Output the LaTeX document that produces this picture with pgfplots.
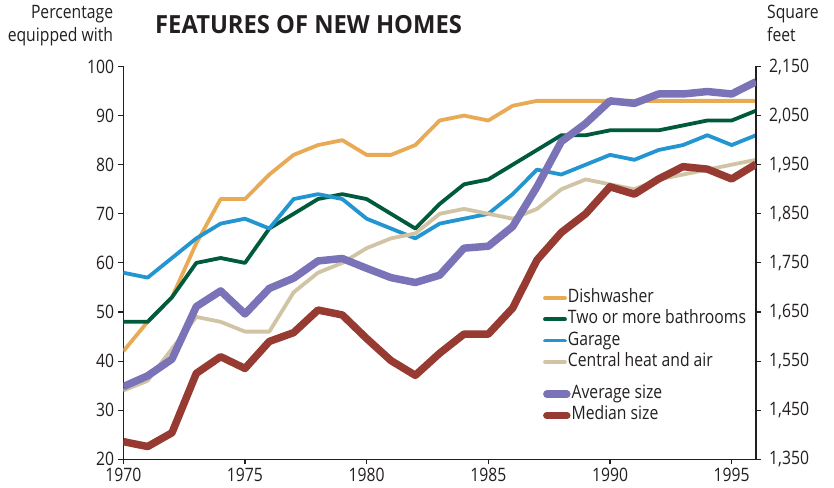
\documentclass[border=0pt]{standalone}
\usepackage{fontspec}
\setmainfont{Open Sans}[FakeStretch=0.85]
\newfontfamily\titlefont{Open Sans}[FakeStretch=0.95]
\usepackage{pgfplots}
\usepackage{pgfplotstable}
\pgfplotsset{compat=1.18}

\definecolor{cdish}{HTML}{E8AA54}
\definecolor{cbath}{HTML}{005A3C}
\definecolor{cgarage}{HTML}{2396D2}
\definecolor{ccentral}{HTML}{D0C4A4}
\definecolor{cavg}{HTML}{7A73B8}
\definecolor{cmed}{HTML}{963A32}
\definecolor{ctext}{HTML}{231F20}

% year, percentages (left axis), square feet (right axis)
\pgfplotstableread{
year dish bath garage central avg  med
1970 42   48   58     34      1498 1386
1971 48   48   57     36      1520 1376
1972 53   53   61     42.5    1554 1404
1973 64   60   65     49      1661 1525
1974 73   61   68     48      1693 1559
1975 73   60   69     46      1646 1535
1976 78   67   67     46      1698 1590
1977 82   70   73     54      1719 1608
1978 84   73   74     58      1754 1654
1979 85   74   73     60      1759 1644
1980 82   73   69     63      1739 1596
1981 82   70   67     65      1720 1551
1982 84   67   65     66      1710 1521
1983 89   72   68     70      1725 1566
1984 90   76   69     71      1780 1605
1985 89   77   70     70      1784 1605
1986 92   80   74     69      1824 1658
1987 93   83   79     71      1905 1756
1988 93   86   78     75      1997 1812
1989 93   86   80     77      2034 1850
1990 93   87   82     76      2080 1905
1991 93   87   81     75      2075 1890
1992 93   87   83     77      2094 1921
1993 93   88   84     78      2094 1946
1994 93   89   86     79      2099 1941
1995 93   89   84     80      2094 1921
1996 93   91   86     81      2119 1951
}\homes

\pgfplotsset{
  base/.style={
    scale only axis,
    width=632.7pt, height=392.8pt,
    at={(0,0)}, anchor=south west,
    xmin=1970, xmax=1996,
    tick align=outside,
    major tick length=5pt,
    tick style={line width=1.2pt, ctext},
    axis line style={line width=1.3pt, ctext},
    tick label style={font=\fontsize{18.5}{20}\selectfont, text=ctext, inner sep=0pt},
    xticklabel shift=4pt, yticklabel shift=4pt,
    /pgf/number format/assume math mode=true,
    legend style={draw=none, fill=none, inner sep=0pt, outer sep=0pt,
      font=\fontsize{18.5}{20}\selectfont, text=ctext,
      nodes={text height=13pt, text depth=4pt, inner sep=1pt},
      row sep=2.3pt, anchor=north west},
    legend cell align=left,
    legend image code/.code={\draw[#1, line cap=round] (0pt,0pt) -- (20pt,0pt);},
    line join=round,
  },
  thin/.style={line width=3.8pt, no markers},
  thick/.style={line width=7.5pt, no markers},
}

\begin{document}
\begin{tikzpicture}
\useasboundingbox (-123.3pt,-27.7pt) rectangle (710.7pt,459.3pt);

\begin{axis}[base,
  axis x line*=bottom, axis y line*=left,
  ymin=20, ymax=100, ytick={20,30,...,100},
  xtick={1970,1975,...,1995},
  xticklabel style={/pgf/number format/1000 sep={}},
  legend style={at={(0.6635,0.435)}},
]
\addplot[thin, cdish] table[x=year, y=dish] {\homes};
\addlegendentry{Dishwasher}
\addplot[thin, cbath] table[x=year, y=bath] {\homes};
\addlegendentry{Two or more bathrooms}
\addplot[thin, cgarage] table[x=year, y=garage] {\homes};
\addlegendentry{Garage}
\addplot[thin, ccentral] table[x=year, y=central] {\homes};
\addlegendentry{Central heat and air}
\end{axis}

\begin{axis}[base,
  axis x line=none, axis y line*=right,
  ymin=1350, ymax=2150, ytick={1350,1450,...,2150},
  yticklabel style={xshift=4pt, /pgf/number format/1000 sep={,}},
  legend style={at={(0.6635,0.19)}},
]
\addplot[thick, cavg] table[x=year, y=avg] {\homes};
\addlegendentry{Average size}
\addplot[thick, cmed] table[x=year, y=med] {\homes};
\addlegendentry{Median size}
\end{axis}

\node[anchor=west, text=ctext, inner sep=0pt, font=\fontsize{25}{28}\titlefont\bfseries]
  at (31.7pt,434.5pt) {FEATURES OF NEW HOMES};
\node[anchor=north east, align=right, text=ctext, inner sep=0pt,
  font=\fontsize{18.5}{23}\selectfont] at (-10pt,454pt) {Percentage\\equipped with};
\node[anchor=north west, align=left, text=ctext, inner sep=0pt,
  font=\fontsize{18.5}{23}\selectfont] at (643.7pt,454pt) {Square\\feet};
\end{tikzpicture}
\end{document}
